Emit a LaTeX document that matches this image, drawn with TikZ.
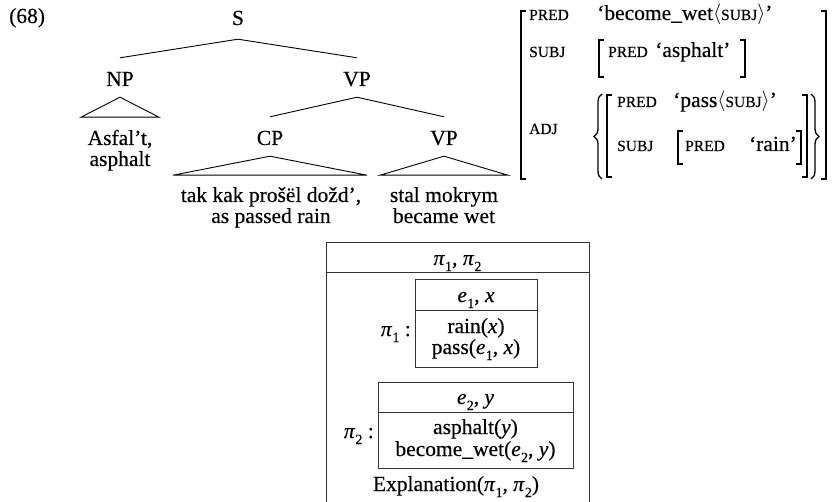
\documentclass[tikz,border=0pt]{standalone}
\usepackage{fontspec}
\setmainfont{Liberation Serif}[
  UprightFeatures={FakeBold=0.3},
  ItalicFeatures={FakeBold=0.3}]
\usetikzlibrary{calc,decorations.pathreplacing}

% small capitals, italic variables with subscripts, angle brackets
\newcommand\smc[1]{{\fontsize{15.5}{15.5}\selectfont #1}}
\newcommand\isub[2]{\textit{#1}\kern0.3pt\raisebox{-0.28em}{\fontsize{14}{14}\selectfont #2}}
\newcommand\lang{\ensuremath{\langle}}
\newcommand\rang{\ensuremath{\rangle}}
% square brackets of the attribute-value matrix
\newcommand\avmL[3]{\draw[brk] ({#1+5},#2) -- (#1,#2) -- (#1,#3) -- ({#1+5},#3);}
\newcommand\avmR[3]{\draw[brk] ({#1-5},#2) -- (#1,#2) -- (#1,#3) -- ({#1-5},#3);}

\begin{document}
\begin{tikzpicture}[x=1pt,y=-1pt,
  every node/.style={font=\fontsize{21.5}{21.5}\selectfont, inner sep=0pt},
  cat/.style={anchor=base, text height=14pt, text depth=0pt},
  leaf/.style={anchor=base},
  lbl/.style={anchor=base west},
  branch/.style={line width=0.9pt},
  brk/.style={line width=1.3pt},
  curly/.style={line width=1.3pt, decorate,
    decoration={brace, amplitude=8pt, aspect=0.5}},
  drs/.style={line width=0.9pt, black!80}]
\useasboundingbox (0,0) rectangle (837,502);

% ---- phrase structure tree ----
\node[anchor=base west] (num) at (9,23) {(68)};
\node[cat] (S)   at (238,25)  {S};
\node[cat] (NP)  at (120,86)  {NP};
\node[cat] (VP1) at (357,86)  {VP};
\node[cat] (CP)  at (270,145) {CP};
\node[cat] (VP2) at (444,145) {VP};

\draw[branch] ([yshift=-14pt]S.south) -- ([yshift=14pt]NP.north);
\draw[branch] ([yshift=-14pt]S.south) -- ([yshift=14pt]VP1.north);
\draw[branch] ([yshift=-11pt]VP1.south) -- ([yshift=14pt]CP.north);
\draw[branch] ([yshift=-11pt]VP1.south) -- ([yshift=14pt]VP2.north);

\draw[branch] ([yshift=-11pt]NP.south) -- ++(-39,20) -- ++(78,0) -- cycle;
\draw[branch] ([yshift=-11pt]CP.south) -- ++(-97,19) -- ++(194,0) -- cycle;
\draw[branch] ([yshift=-11pt]VP2.south) -- ++(-64,19) -- ++(128,0) -- cycle;

\node[leaf] (a1) at (120,145) {Asfal’t,};
\node[leaf] (a2) at (120,166) {asphalt};
\node[leaf] (c1) at (271,202) {tak kak prošël dožd’,};
\node[leaf] (c2) at (271,223) {as passed rain};
\node[leaf] (v1) at (444,202) {stal mokrym};
\node[leaf] (v2) at (444,223) {became wet};

% ---- f-structure ----
\avmL{521}{11}{179}
\avmR{826}{11}{179}
\node[lbl] (p1) at (529,20) {\smc{PRED}};
\node[lbl] (p1v) at (597,20) {`become\_wet\lang\smc{SUBJ}\rang'};
\node[lbl] (s1) at (529,57) {\smc{SUBJ}};
\avmL{599}{40}{77}
\avmR{745}{40}{77}
\node[lbl] (p2) at (608,57) {\smc{PRED}};
\node[lbl] (p2v) at (655,57) {`asphalt'};
\node[lbl] (adj) at (529,134) {\smc{ADJ}};
\coordinate (lbt) at (602,94);
\coordinate (lbb) at (602,179);
\draw[curly] (lbb) -- (lbt);
\avmL{607}{95}{177}
\avmR{807}{95}{177}
\node[lbl] (p3) at (617,107) {\smc{PRED}};
\node[lbl] (p3v) at (673,107) {`pass\lang\smc{SUBJ}\rang'};
\node[lbl] (s3) at (617,151) {\smc{SUBJ}};
\avmL{678}{131}{164}
\avmR{801}{131}{164}
\node[lbl] (p4) at (685,151) {\smc{PRED}};
\node[anchor=base east] (p4v) at (797,151) {`rain'};
\coordinate (rbt) at (811,94);
\coordinate (rbb) at (811,179);
\draw[curly] (rbt) -- (rbb);

% ---- discourse representation structure ----
\draw[drs] (326,502) -- (326,242) -- (589,242) -- (589,502);
\draw[drs] (326,272) -- (589,272);
\node[leaf] (top) at (457.5,265) {\isub{π}{1}, \isub{π}{2}};

\draw[drs] (415,279) rectangle (537,367);
\draw[drs] (415,310) -- (537,310);
\node[leaf] (k1h) at (476,302) {\isub{e}{1}, \textit{x}};
\node[leaf] (k1a) at (476,333) {rain(\textit{x})};
\node[leaf] (k1b) at (476,354) {pass(\isub{e}{1}, \textit{x})};
\node[anchor=base east] (l1) at (411,336) {\isub{π}{1} :};

\draw[drs] (378,382) rectangle (573,468);
\draw[drs] (378,412) -- (573,412);
\node[leaf] (k2h) at (475.5,404) {\isub{e}{2}, \textit{y}};
\node[leaf] (k2a) at (475.5,434) {asphalt(\textit{y})};
\node[leaf] (k2b) at (475.5,456) {become\_wet(\isub{e}{2}, \textit{y})};
\node[anchor=base east] (l2) at (374,438) {\isub{π}{2} :};

\node[leaf] (expl) at (456,491) {Explanation(\isub{π}{1}, \isub{π}{2})};
\end{tikzpicture}
\end{document}
